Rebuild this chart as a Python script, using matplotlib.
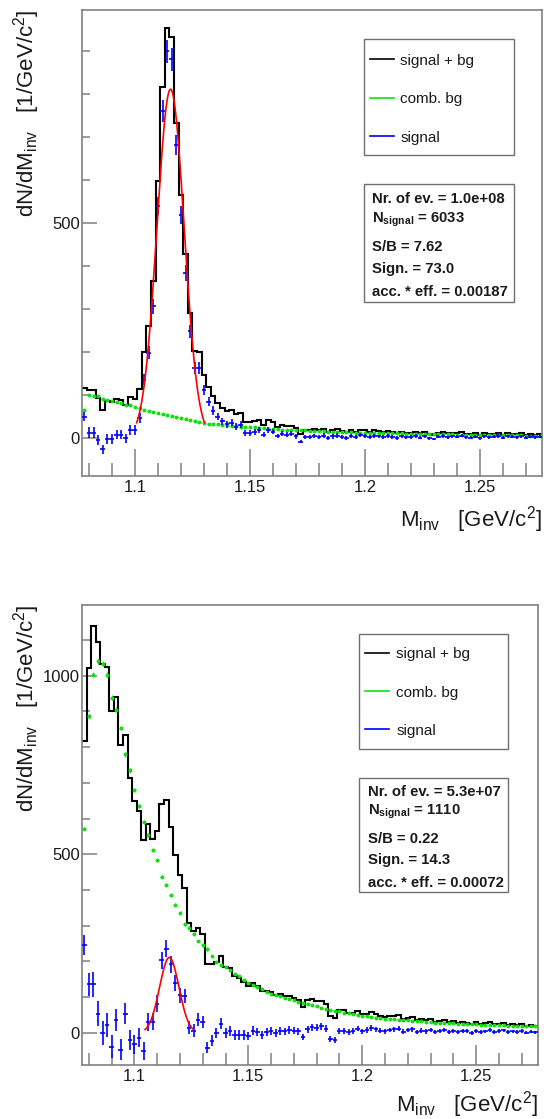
import numpy as np
import matplotlib
matplotlib.use("Agg")
import matplotlib.pyplot as plt
from matplotlib.patches import Rectangle
from matplotlib.lines import Line2D
from matplotlib.ticker import MultipleLocator

plt.rcParams["font.family"] = ["Liberation Sans", "DejaVu Sans"]
plt.rcParams["mathtext.fontset"] = "custom"
plt.rcParams["mathtext.rm"] = "Liberation Sans"
plt.rcParams["mathtext.it"] = "Liberation Sans:italic"
plt.rcParams["mathtext.bf"] = "Liberation Sans:bold"

# ---------------------------------------------------------------- data
# invariant-mass binning: 100 bins of 2 MeV/c^2
m_low, m_high, n_bins = 1.077, 1.277, 100

# upper panel: background-subtracted signal and combinatorial background
top_signal = [
    50, 13, 13, -4, -26, -2, -2, 8, 8, 0,
    19, 19, 46, 136, 198, 306, 539, 760, 899, 880,
    682, 519, 384, 248, 163, 163, 112, 85, 64, 50,
    39, 32, 36, 27, 31, 12, 12, 15, 19, 8,
    19, 15, 5, 10, 8, 10, 4, -8, 2, 3,
    5, 2, 6, 0, 4, 6, 3, 1, 4, 2,
    7, 5, 3, 6, 4, 2, 5, 3, 0, 4,
    2, 3, 5, 1, 4, 0, -2, 3, 5, 2,
    4, 3, 6, 2, 1, 3, 0, 4, 2, 3,
    5, 1, 4, 3, 2, 4, 1, 3, 2, 3,
]
top_bg = [
    66, 100, 99, 97, 92, 88, 86, 83, 81, 78,
    76, 72, 69, 65, 62, 60, 58, 56, 54, 52,
    50, 47, 45, 43, 40, 37, 35, 34, 33, 32,
    31, 30, 29, 28, 27, 26, 26, 25, 24, 23,
    22, 22, 21, 20, 20, 19, 19, 18, 18, 17,
    17, 16, 16, 15, 15, 15, 14, 14, 14, 13,
    13, 13, 12, 12, 12, 12, 11, 11, 11, 11,
    10, 10, 10, 10, 10, 9, 9, 9, 9, 9,
    9, 8, 8, 8, 8, 8, 8, 8, 7, 7,
    7, 7, 7, 7, 7, 7, 6, 6, 6, 6,
]

# lower panel
bottom_signal = [
    245, 136, 136, 54, 0, 21, -39, 36, -47, 54,
    -20, -32, -13, -50, 31, 31, 82, 203, 236, 192,
    140, 105, 103, 15, 6, 37, 31, -41, -22, 0,
    26, 0, 6, -6, -6, -6, -9, 6, 3, -6,
    2, 5, 0, 6, 4, 8, 6, 5, -12, 10,
    16, 14, 18, 12, -18, -20, 4, 6, 2, 5,
    12, 4, 8, 14, 10, 6, 4, 8, 10, 12,
    3, 8, 10, 2, 6, 4, 8, 2, 5, 7,
    3, 6, 2, 5, 4, 0, 6, 3, 4, 8,
    2, 5, 7, 3, 4, 2, 5, 1, 3, 2,
]
bottom_bg = [
    572, 886, 1003, 1041, 1034, 1003, 939, 905, 854, 780,
    735, 681, 635, 591, 553, 511, 483, 437, 415, 385,
    359, 337, 304, 294, 278, 257, 245, 234, 215, 199,
    189, 185, 175, 164, 159, 148, 140, 134, 129, 124,
    115, 110, 106, 102, 98, 94, 91, 87, 84, 81,
    78, 75, 71, 68, 65, 62, 60, 57, 55, 52,
    50, 48, 46, 45, 43, 42, 40, 39, 38, 37,
    36, 35, 34, 33, 32, 31, 30, 29, 29, 28,
    27, 27, 26, 25, 25, 24, 24, 23, 23, 22,
    22, 21, 21, 20, 20, 19, 19, 18, 18, 18,
]

# Gaussian fits of the signal peak: amplitude, mean, sigma
top_fit = (811.0, 1.1155, 0.0059)
bottom_fit = (211.0, 1.1153, 0.00425)
fit_range_sigma = 2.5

# conversion of yield per bin to counts (for Poisson errors)
top_count_scale = 0.70
bottom_count_scale = 0.55

legend_labels = ["signal + bg", "comb. bg", "signal"]
top_stats = ["Nr. of ev. = 1.0e+08", r"N$_{\mathbf{signal}}$ = 6033",
             "S/B = 7.62", "Sign. = 73.0", "acc. * eff. = 0.00187"]
bottom_stats = ["Nr. of ev. = 5.3e+07", r"N$_{\mathbf{signal}}$ = 1110",
                "S/B = 0.22", "Sign. = 14.3", "acc. * eff. = 0.00072"]

x_major = [1.1, 1.15, 1.2, 1.25]
x_major_labels = ["1.1", "1.15", "1.2", "1.25"]

# ---------------------------------------------------------------- style
W, H = 544, 1119
BLACK = "#000000"
GREEN = "#10e010"
BLUE = "#0000ff"
RED = "#ff0000"
FRAME = "#808080"
TEXT = "#1a1a1a"

fig = plt.figure(figsize=(W / 100, H / 100), dpi=100)
fig.patch.set_facecolor("white")

edges = np.linspace(m_low, m_high, n_bins + 1)
centers = 0.5 * (edges[:-1] + edges[1:])
half_bin = 0.5 * (edges[1] - edges[0])


def fx(px):
    return px / W


def fy(py):
    return 1.0 - py / H


def draw_panel(rect, signal, bg, fit, scale, ylim, ymajor, xtick_len,
               xlabel_y, legend_box, legend_rows, text_x, stats_box,
               stats_baselines, stats_x, stats):
    left, top, right, bottom = rect
    ax = fig.add_axes([fx(left), fy(bottom), (right - left) / W,
                       (bottom - top) / H])
    signal = np.asarray(signal, float)
    bg = np.asarray(bg, float)
    total = signal + bg
    sig_err = np.sqrt(scale * (np.abs(total) + bg))
    bg_err = 0.3 * np.sqrt(scale * bg)

    ax.stairs(total, edges, baseline=None, color=BLACK, lw=1.5, zorder=2)
    ax.errorbar(centers, bg, xerr=0.6 * half_bin, yerr=bg_err, fmt="o",
                ms=1.8, color=GREEN, mec=GREEN, elinewidth=0.9, capsize=0,
                zorder=3)
    ax.errorbar(centers, signal, xerr=half_bin, yerr=sig_err, fmt="none",
                ecolor=BLUE, elinewidth=1.2, capsize=0, zorder=4)

    amp, mu, sig = fit
    xf = np.linspace(mu - fit_range_sigma * sig, mu + fit_range_sigma * sig, 300)
    ax.plot(xf, amp * np.exp(-0.5 * ((xf - mu) / sig) ** 2), color=RED,
            lw=1.2, zorder=5)

    ax.set_xlim(m_low, m_high)
    ax.set_ylim(*ylim)
    ax.set_xticks(x_major, x_major_labels)
    ax.xaxis.set_minor_locator(MultipleLocator(0.01))
    ax.set_yticks(ymajor, [str(v) for v in ymajor])
    ax.yaxis.set_minor_locator(MultipleLocator(100))

    for s in ax.spines.values():
        s.set_color(FRAME)
        s.set_linewidth(1.2)
    ax.tick_params(axis="x", which="major", direction="in", length=xtick_len[0],
                   width=1.1, color=FRAME, labelsize=12, pad=3,
                   labelcolor=TEXT)
    ax.tick_params(axis="x", which="minor", direction="in", length=xtick_len[1],
                   width=1.1, color=FRAME)
    ax.tick_params(axis="y", which="major", direction="in", length=11,
                   width=1.1, color=FRAME, labelsize=12, pad=1.5,
                   labelcolor=TEXT)
    ax.tick_params(axis="y", which="minor", direction="in", length=5.5,
                   width=1.1, color=FRAME)

    ax.set_xlabel(r"M$_{\mathrm{inv}}$   [GeV/c$^{2}$]", fontsize=16,
                  color=TEXT)
    ax.xaxis.set_label_coords(1.0, xlabel_y)
    ax.xaxis.label.set_horizontalalignment("right")
    ax.xaxis.label.set_verticalalignment("baseline")

    ax.set_ylabel(r"dN/dM$_{\mathrm{inv}}$   [1/GeV/c$^{2}$]", fontsize=16,
                  color=TEXT)
    ax.yaxis.set_label_coords((27 - left) / (right - left), 1.0)
    ax.yaxis.label.set_horizontalalignment("right")
    ax.yaxis.label.set_verticalalignment("center")

    # legend box
    x0, y0, x1, y1 = legend_box
    fig.add_artist(Rectangle((fx(x0), fy(y1)), (x1 - x0) / W, (y1 - y0) / H,
                             transform=fig.transFigure, fill=False,
                             ec="#707070", lw=1.0))
    for (line_y, text_y), label, col in zip(legend_rows, legend_labels,
                                            [BLACK, GREEN, BLUE]):
        fig.add_artist(Line2D([fx(x0 + 5.5), fx(x0 + 30)], [fy(line_y)] * 2,
                              transform=fig.transFigure, color=col, lw=1.2))
        fig.text(fx(text_x), fy(text_y), label, fontsize=11, color=TEXT,
                 ha="left", va="baseline")

    # fit summary box
    x0, y0, x1, y1 = stats_box
    fig.add_artist(Rectangle((fx(x0), fy(y1)), (x1 - x0) / W, (y1 - y0) / H,
                             transform=fig.transFigure, fill=False,
                             ec="#707070", lw=1.0))
    for base, line in zip(stats_baselines, stats):
        fig.text(fx(stats_x), fy(base), line, fontsize=10.7,
                 fontweight="bold", color=TEXT, ha="left", va="baseline")
    return ax


draw_panel(rect=(82, 10, 542, 476), signal=top_signal, bg=top_bg,
           fit=top_fit, scale=top_count_scale, ylim=(-88, 995),
           ymajor=[0, 500], xtick_len=(19.5, 9.3), xlabel_y=-0.109,
           legend_box=(364.3, 39.3, 514.3, 155.3),
           legend_rows=[(59.3, 65), (97.7, 103.3), (136, 141.7)],
           text_x=400.3,
           stats_box=(364.3, 184.3, 514.3, 301.7),
           stats_baselines=[203.3, 222.7, 250.7, 272.7, 296],
           stats_x=372, stats=top_stats)

draw_panel(rect=(82, 605, 537.7, 1065), signal=bottom_signal, bg=bottom_bg,
           fit=bottom_fit, scale=bottom_count_scale, ylim=(-90, 1198),
           ymajor=[0, 500, 1000], xtick_len=(14.4, 8.6), xlabel_y=-0.1015,
           legend_box=(359.3, 634, 508, 749),
           legend_rows=[(652.7, 658.3), (691, 696.7), (729.3, 735)],
           text_x=396.3,
           stats_box=(359.3, 777.7, 508, 891.7),
           stats_baselines=[796, 815, 842.7, 864, 887.3],
           stats_x=367.7, stats=bottom_stats)

fig.savefig("out.png", dpi=100, facecolor="white")
